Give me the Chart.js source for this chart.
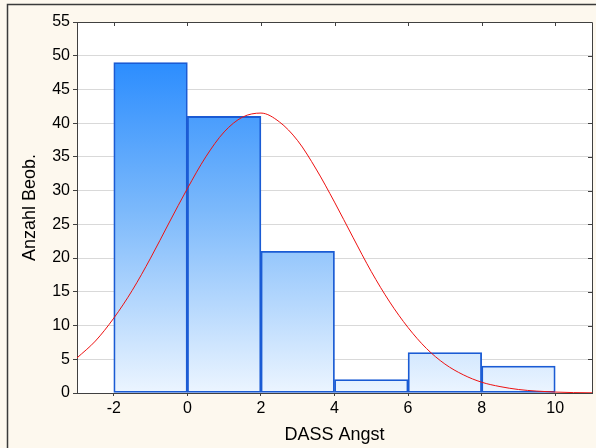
<!DOCTYPE html>
<html>
<head>
<meta charset="utf-8">
<script src="https://cdn.jsdelivr.net/npm/chart.js@4/dist/chart.umd.min.js"></script>
<style>
  html, body { margin: 0; padding: 0; background: #fdf8ee; }
  #wrap { width: 596px; height: 448px; }
</style>
</head>
<body>
<div id="wrap"><canvas id="hist"></canvas></div>
<script>
// Histogram bins (midpoints, width 2) and counts
const binMids = [-1, 1, 3, 5, 7, 9];
const counts = [49, 41, 21, 2, 6, 4];

// Fitted normal curve
const curveX = [-3, -2.5, -2, -1.5, -1, -0.5, 0, 0.5, 1, 1.5, 2, 2.5, 3, 3.5, 4, 4.5,
                5, 5.5, 6, 6.5, 7, 7.5, 8, 8.5, 9, 9.5, 10, 10.5, 11];
const curveY = [5.2, 7.7, 11.1, 15.2, 20.0, 25.2, 30.3, 35.0, 38.7, 40.9, 41.5, 40.2, 37.4, 33.2,
                28.3, 23.1, 18.0, 13.5, 9.7, 6.6, 4.3, 2.7, 1.6, 0.95, 0.52, 0.28, 0.14, 0.06, 0.03];

// Tick labels
const xTicks = [-2, 0, 2, 4, 6, 8, 10];
const yTicks = [0, 5, 10, 15, 20, 25, 30, 35, 40, 45, 50, 55];

const FONT = "'Liberation Sans', Arial, sans-serif";
const AXIS = '#404040';

// Beige page, white plot, frame and inward ticks on top / right
const framePlugin = {
  id: 'frame',
  beforeDraw(chart) {
    const { ctx, chartArea: a, width, height } = chart;
    ctx.save();
    ctx.fillStyle = '#fdf8ee';
    ctx.fillRect(0, 0, width, height);
    ctx.fillStyle = '#ffffff';
    ctx.fillRect(a.left, a.top, a.right - a.left, a.bottom - a.top);
    ctx.strokeStyle = '#3a3a3a';
    ctx.lineWidth = 1.5;
    ctx.beginPath();
    ctx.moveTo(7.5, height);
    ctx.lineTo(7.5, 4.5);
    ctx.lineTo(width, 4.5);
    ctx.stroke();
    ctx.restore();
  },
  afterDraw(chart) {
    const { ctx, chartArea: a, scales } = chart;
    ctx.save();
    ctx.strokeStyle = AXIS;
    ctx.lineWidth = 1;
    ctx.beginPath();
    ctx.moveTo(a.left, a.top + 0.5);
    ctx.lineTo(a.right + 0.5, a.top + 0.5);
    ctx.lineTo(a.right + 0.5, a.bottom);
    xTicks.forEach(v => {
      const px = Math.round(scales.x.getPixelForValue(v)) + 0.5;
      ctx.moveTo(px, a.top);
      ctx.lineTo(px, a.top + 4);
    });
    yTicks.forEach(v => {
      const py = Math.round(scales.y.getPixelForValue(v)) + 0.5;
      ctx.moveTo(a.right, py);
      ctx.lineTo(a.right - 4, py);
    });
    ctx.stroke();
    ctx.restore();
  }
};

function barGradient(context) {
  const area = context.chart.chartArea;
  if (!area) return '#4a9cff';
  const g = context.chart.ctx.createLinearGradient(0, area.top, 0, area.bottom);
  g.addColorStop(0, '#1681ff');
  g.addColorStop(0.5, '#7ab8fb');
  g.addColorStop(1, '#ecf5ff');
  return g;
}

new Chart(document.getElementById('hist'), {
  type: 'bar',
  data: {
    datasets: [
      {
        type: 'line',
        data: curveX.map((x, i) => ({ x, y: curveY[i] })),
        borderColor: '#ee1111',
        borderWidth: 1,
        pointRadius: 0,
        tension: 0.4,
        cubicInterpolationMode: 'monotone',
        fill: false,
        order: 0
      },
      {
        data: binMids.map((x, i) => ({ x, y: counts[i] })),
        backgroundColor: barGradient,
        borderColor: '#1a5bd4',
        borderWidth: 1.8,
        borderSkipped: false,
        barPercentage: 1,
        categoryPercentage: 1,
        order: 1
      }
    ]
  },
  options: {
    responsive: true,
    maintainAspectRatio: false,
    animation: false,
    layout: { padding: { left: 0, top: 22, right: 4, bottom: 0 } },
    plugins: {
      legend: { display: false },
      tooltip: { enabled: false }
    },
    scales: {
      x: {
        type: 'linear',
        min: -3,
        max: 11,
        offset: false,
        afterBuildTicks: s => { s.ticks = xTicks.map(v => ({ value: v })); },
        afterFit: s => { s.height = 55; },
        grid: { display: true, drawOnChartArea: false, drawTicks: true, tickLength: 3, tickColor: AXIS, offset: false },
        border: { color: AXIS, width: 1 },
        ticks: { color: '#000', padding: 3, font: { family: FONT, size: 16 }, maxRotation: 0 },
        title: { display: true, text: 'DASS Angst', color: '#000', font: { family: FONT, size: 18 }, padding: { top: 0, bottom: 2 } }
      },
      y: {
        min: 0,
        max: 55,
        afterBuildTicks: s => { s.ticks = yTicks.map(v => ({ value: v })); },
        afterFit: s => { s.width = 77; },
        grid: { color: '#d9d9d9', lineWidth: 1, drawTicks: true, tickLength: 4, tickColor: AXIS },
        border: { color: AXIS, width: 1 },
        ticks: { color: '#000', padding: 3, font: { family: FONT, size: 16 } },
        title: { display: true, text: 'Anzahl Beob.', color: '#000', font: { family: FONT, size: 18 }, padding: { top: 19, bottom: 0 } }
      }
    }
  },
  plugins: [framePlugin]
});
</script>
</body>
</html>
